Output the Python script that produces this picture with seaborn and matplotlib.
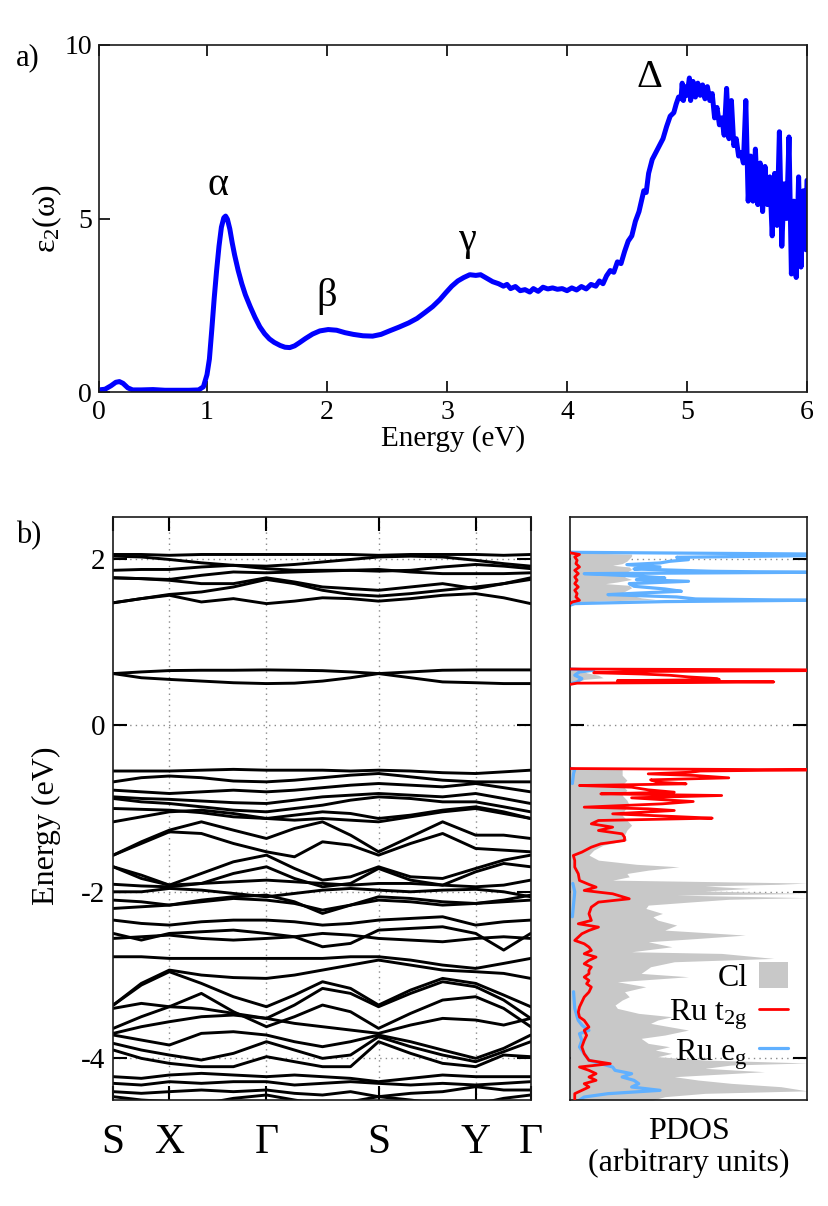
import numpy as np
import pandas as pd
import matplotlib
matplotlib.use("Agg")
import matplotlib.pyplot as plt
import seaborn as sns
from matplotlib.patches import Patch
from matplotlib.lines import Line2D

# ---------------- data: panel a) ----------------
eps_energy = [0.10, 0.15, 0.20, 0.24, 0.27, 0.30, 0.34, 0.38, 0.45, 0.55, 0.65, 0.75, 0.85, 0.93,
              0.97, 1.00, 1.02, 1.04, 1.06, 1.08, 1.10, 1.12, 1.14, 1.155, 1.17, 1.19, 1.21, 1.23,
              1.26, 1.29, 1.32, 1.36, 1.40, 1.44, 1.48, 1.52, 1.56, 1.61, 1.65, 1.69, 1.73, 1.77,
              1.82, 1.88, 1.94, 2.01, 2.08, 2.15, 2.22, 2.30, 2.38, 2.45, 2.52, 2.60, 2.68, 2.75,
              2.82, 2.88, 2.94, 2.99, 3.04, 3.09, 3.14, 3.19, 3.24, 3.28, 3.33, 3.38, 3.43, 3.47,
              3.50, 3.53, 3.57, 3.61, 3.65, 3.69, 3.72, 3.76, 3.80, 3.84, 3.88, 3.92, 3.96, 4.00,
              4.04, 4.08, 4.12, 4.16, 4.20, 4.24, 4.27, 4.30, 4.33, 4.36, 4.39, 4.42, 4.45, 4.48,
              4.51, 4.54, 4.57, 4.60, 4.62, 4.64, 4.66, 4.68, 4.71, 4.74, 4.77, 4.80, 4.83, 4.86,
              4.89, 4.91, 4.93, 4.95, 4.96, 4.97, 4.99, 5.00, 5.02, 5.03, 5.05, 5.07, 5.09, 5.11,
              5.13, 5.15, 5.17, 5.19, 5.21, 5.23, 5.25, 5.27, 5.29, 5.31, 5.33, 5.35, 5.37, 5.39,
              5.41, 5.43, 5.45, 5.47, 5.49, 5.51, 5.53, 5.55, 5.57, 5.59, 5.61, 5.63, 5.65, 5.67,
              5.69, 5.71, 5.73, 5.75, 5.77, 5.79, 5.81, 5.83, 5.85, 5.87, 5.89, 5.91, 5.93, 5.95,
              5.97, 5.99, 6.00]
eps2 = [0.06, 0.08, 0.18, 0.28, 0.30, 0.25, 0.12, 0.06, 0.06, 0.07, 0.05, 0.05, 0.05, 0.06,
        0.15, 0.50, 0.95, 1.80, 2.70, 3.50, 4.20, 4.75, 5.02, 5.07, 4.98, 4.70, 4.30, 3.95,
        3.50, 3.12, 2.80, 2.46, 2.15, 1.88, 1.68, 1.53, 1.43, 1.34, 1.29, 1.28, 1.33, 1.42,
        1.54, 1.67, 1.76, 1.80, 1.78, 1.71, 1.66, 1.62, 1.61, 1.66, 1.76, 1.87, 1.99, 2.12,
        2.30, 2.46, 2.66, 2.86, 3.05, 3.20, 3.30, 3.38, 3.36, 3.38, 3.28, 3.18, 3.12, 3.05,
        3.10, 2.98, 3.04, 2.92, 2.95, 2.88, 2.98, 2.90, 3.02, 2.97, 3.00, 2.96, 2.98, 2.92,
        3.00, 2.94, 3.04, 2.97, 3.10, 3.05, 3.20, 3.12, 3.35, 3.50, 3.45, 3.75, 3.70, 4.05,
        4.35, 4.50, 4.92, 5.20, 5.50, 5.80, 5.75, 6.30, 6.70, 6.90, 7.10, 7.30, 7.65, 7.95,
        8.05, 8.30, 8.50, 8.45, 8.90, 8.40, 8.80, 8.55, 9.05, 8.40, 8.95, 8.50, 8.90, 8.55,
        8.85, 8.45, 8.80, 8.40, 8.60, 7.90, 8.20, 7.70, 7.90, 7.40, 8.75, 7.30, 8.40, 7.10,
        7.30, 6.80, 6.90, 6.60, 8.40, 5.50, 6.80, 5.50, 7.00, 5.40, 6.60, 5.20, 6.50, 5.40,
        6.20, 4.50, 6.30, 4.80, 7.50, 4.20, 6.00, 5.00, 7.35, 3.40, 5.50, 3.30, 6.20, 3.60,
        5.80, 4.10, 6.10]
peak_labels = ["α", "β", "γ", "Δ"]
peak_x = [1.09, 2.00, 3.17, 4.69]
peak_y = [5.96, 2.74, 4.38, 9.05]
a_xticks = [0.1, 1, 2, 3, 4, 5, 6]
a_xticklabels = ["0", "1", "2", "3", "4", "5", "6"]
a_yticks = [0, 5, 10]

# ---------------- data: panel b) band structure ----------------
k_path = [0, 28, 56, 88, 120, 153, 181, 209, 237, 265, 297, 329, 362, 390, 417]
k_ticks = [0, 56, 153, 265, 362, 417]
k_labels = ["S", "X", "Γ", "S", "Y", "Γ"]
band_yticks = [2, 0, -2, -4]

bands_conduction = [
    [2.05, 2.05, 2.04, 2.05, 2.05, 2.05, 2.05, 2.05, 2.05, 2.04, 2.05, 2.05, 2.05, 2.04, 2.05],
    [2.03, 2.02, 1.99, 1.95, 1.92, 1.91, 1.93, 1.96, 1.99, 2.02, 2.03, 2.02, 1.98, 1.94, 1.91],
    [1.86, 1.87, 1.87, 1.90, 1.92, 1.88, 1.86, 1.86, 1.86, 1.85, 1.86, 1.90, 1.93, 1.91, 1.88],
    [1.77, 1.76, 1.75, 1.80, 1.84, 1.83, 1.84, 1.85, 1.86, 1.87, 1.84, 1.82, 1.82, 1.82, 1.83],
    [1.77, 1.76, 1.74, 1.70, 1.70, 1.77, 1.72, 1.66, 1.64, 1.62, 1.66, 1.70, 1.64, 1.70, 1.77],
    [1.47, 1.52, 1.57, 1.60, 1.66, 1.75, 1.70, 1.62, 1.57, 1.55, 1.58, 1.62, 1.66, 1.70, 1.75],
    [1.47, 1.52, 1.56, 1.48, 1.52, 1.46, 1.49, 1.53, 1.52, 1.49, 1.52, 1.56, 1.58, 1.53, 1.46],
]
bands_flat = [
    [0.62, 0.64, 0.656, 0.66, 0.66, 0.664, 0.66, 0.655, 0.64, 0.62, 0.64, 0.66, 0.664, 0.664, 0.664],
    [0.62, 0.57, 0.55, 0.53, 0.51, 0.50, 0.505, 0.53, 0.57, 0.62, 0.57, 0.52, 0.51, 0.50, 0.50],
]
bands_valence_upper = [
    [-0.55, -0.55, -0.55, -0.54, -0.53, -0.54, -0.54, -0.54, -0.55, -0.54, -0.55, -0.57, -0.58, -0.56, -0.54],
    [-0.68, -0.63, -0.61, -0.63, -0.67, -0.68, -0.66, -0.63, -0.60, -0.58, -0.62, -0.66, -0.68, -0.68, -0.68],
    [-0.78, -0.80, -0.82, -0.80, -0.78, -0.80, -0.78, -0.75, -0.72, -0.70, -0.72, -0.74, -0.70, -0.75, -0.80],
    [-0.86, -0.88, -0.89, -0.91, -0.93, -0.94, -0.90, -0.86, -0.84, -0.82, -0.84, -0.86, -0.82, -0.88, -0.94],
    [-0.88, -0.92, -0.94, -0.98, -1.02, -1.04, -1.00, -0.96, -0.90, -0.86, -0.88, -0.92, -0.92, -0.98, -1.04],
    [-1.00, -1.01, -1.02, -1.05, -1.10, -1.12, -1.08, -1.04, -1.06, -1.12, -1.08, -1.02, -0.98, -1.04, -1.12],
    [-1.16, -1.10, -1.04, -1.02, -1.06, -1.12, -1.14, -1.12, -1.14, -1.16, -1.10, -1.04, -1.00, -1.06, -1.12],
    [-1.56, -1.40, -1.26, -1.16, -1.26, -1.36, -1.24, -1.16, -1.32, -1.52, -1.34, -1.16, -1.32, -1.32, -1.36],
    [-1.56, -1.42, -1.28, -1.30, -1.42, -1.52, -1.58, -1.40, -1.44, -1.56, -1.42, -1.30, -1.48, -1.50, -1.52],
    [-1.70, -1.80, -1.92, -1.78, -1.64, -1.56, -1.72, -1.86, -1.82, -1.70, -1.82, -1.84, -1.72, -1.62, -1.56],
    [-1.70, -1.84, -1.92, -1.90, -1.78, -1.70, -1.84, -1.94, -1.90, -1.72, -1.86, -1.92, -1.76, -1.66, -1.70],
    [-1.91, -1.93, -1.94, -1.90, -1.88, -1.86, -1.88, -1.90, -1.92, -1.90, -1.90, -1.92, -1.94, -1.92, -1.86],
    [-2.00, -2.00, -1.96, -1.98, -2.02, -2.06, -2.02, -1.98, -1.96, -1.98, -2.00, -1.98, -1.97, -2.00, -2.06],
]
bands_valence_lower = [
    [-2.10, -2.12, -2.16, -2.12, -2.08, -2.10, -2.14, -2.22, -2.16, -2.10, -2.12, -2.16, -2.14, -2.12, -2.10],
    [-2.20, -2.18, -2.16, -2.10, -2.06, -2.04, -2.12, -2.26, -2.16, -2.06, -2.08, -2.12, -2.14, -2.10, -2.04],
    [-2.34, -2.38, -2.40, -2.36, -2.34, -2.34, -2.36, -2.40, -2.38, -2.34, -2.32, -2.30, -2.40, -2.36, -2.34],
    [-2.50, -2.58, -2.50, -2.48, -2.46, -2.50, -2.54, -2.66, -2.62, -2.46, -2.44, -2.42, -2.50, -2.70, -2.50],
    [-2.56, -2.54, -2.52, -2.56, -2.58, -2.56, -2.54, -2.50, -2.52, -2.56, -2.58, -2.60, -2.56, -2.54, -2.56],
    [-2.78, -2.78, -2.80, -2.80, -2.80, -2.80, -2.80, -2.80, -2.78, -2.78, -2.82, -2.88, -2.92, -2.86, -2.80],
    [-3.36, -3.10, -2.94, -3.00, -3.03, -3.04, -3.00, -2.94, -2.88, -2.82, -2.88, -2.94, -2.96, -2.98, -3.04],
    [-3.36, -3.12, -2.96, -3.10, -3.26, -3.38, -3.24, -3.08, -3.16, -3.36, -3.18, -3.04, -3.10, -3.24, -3.38],
    [-3.40, -3.34, -3.38, -3.40, -3.46, -3.52, -3.36, -3.16, -3.22, -3.38, -3.22, -3.08, -3.14, -3.30, -3.52],
    [-3.64, -3.50, -3.38, -3.22, -3.44, -3.62, -3.50, -3.36, -3.44, -3.64, -3.46, -3.30, -3.26, -3.40, -3.62],
    [-3.70, -3.62, -3.56, -3.50, -3.48, -3.52, -3.58, -3.62, -3.66, -3.70, -3.60, -3.52, -3.54, -3.60, -3.52],
    [-3.72, -3.78, -3.84, -3.70, -3.68, -3.72, -3.80, -3.86, -3.80, -3.72, -3.80, -3.90, -4.00, -3.88, -3.72],
    [-3.82, -3.90, -3.96, -4.02, -3.94, -3.80, -3.90, -4.00, -3.96, -3.74, -3.86, -3.96, -4.04, -3.92, -3.80],
    [-3.90, -4.00, -4.06, -4.10, -4.10, -3.98, -4.04, -4.10, -4.10, -3.80, -3.94, -4.06, -4.10, -3.96, -3.98],
    [-4.22, -4.24, -4.20, -4.18, -4.20, -4.22, -4.20, -4.22, -4.24, -4.28, -4.24, -4.20, -4.22, -4.22, -4.22],
    [-4.30, -4.32, -4.28, -4.30, -4.28, -4.28, -4.32, -4.30, -4.28, -4.30, -4.32, -4.30, -4.32, -4.30, -4.28],
    [-4.40, -4.42, -4.40, -4.38, -4.40, -4.38, -4.42, -4.44, -4.40, -4.46, -4.42, -4.40, -4.34, -4.38, -4.38],
    [-4.46, -4.50, -4.52, -4.55, -4.48, -4.44, -4.50, -4.55, -4.52, -4.46, -4.50, -4.55, -4.55, -4.48, -4.44],
]

# ---------------- data: PDOS ----------------
cl_energy = [2.07, 2.055, 2.03, 2.00, 1.97, 1.94, 1.92, 1.90, 1.87, 1.84, 1.81, 1.78, 1.75, 1.72, 1.70,
             1.68, 1.65, 1.62, 1.59, 1.56, 1.53, 1.51, 1.49, 1.47,
             0.675, 0.66, 0.63, 0.60, 0.57, 0.55, 0.52, 0.495,
             -0.515, -0.53, -0.60, -0.66, -0.72, -0.78, -0.84, -0.90, -0.96, -1.02, -1.08, -1.14,
             -1.20, -1.26, -1.32, -1.38, -1.44, -1.50, -1.56, -1.62, -1.67, -1.70, -1.74, -1.78,
             -1.82, -1.86, -1.895, -1.91, -1.93, -1.96, -1.99, -2.02, -2.04, -2.07, -2.09, -2.12,
             -2.16, -2.20, -2.26, -2.30, -2.34, -2.40, -2.46, -2.52, -2.56, -2.60, -2.66, -2.72,
             -2.74, -2.80, -2.84, -2.90, -2.98, -3.02, -3.08, -3.14, -3.20, -3.26, -3.30, -3.36,
             -3.40, -3.46, -3.50, -3.54, -3.58, -3.66, -3.72, -3.76, -3.82, -3.86, -3.90, -3.94,
             -3.98, -4.02, -4.055, -4.08, -4.12, -4.16, -4.22, -4.26, -4.30, -4.34, -4.39, -4.42,
             -4.46, -4.50]
cl_pdos = [0.0, 0.26, 0.26, 0.25, 0.24, 0.22, 0.18, 0.25, 0.26, 0.24, 0.26, 0.23, 0.26, 0.20, 0.15,
           0.25, 0.26, 0.24, 0.22, 0.26, 0.30, 0.36, 0.12, 0.0,
           0.0, 0.05, 0.07, 0.12, 0.14, 0.06, 0.03, 0.0,
           0.0, 0.22, 0.22, 0.24, 0.22, 0.24, 0.22, 0.24, 0.25, 0.23, 0.22, 0.24,
           0.26, 0.24, 0.23, 0.24, 0.14, 0.10, 0.08, 0.12, 0.28, 0.46, 0.33, 0.24,
           0.25, 0.18, 1.0, 0.88, 0.57, 0.76, 0.57, 1.0, 0.45, 1.0, 0.67, 0.52,
           0.33, 0.32, 0.39, 0.35, 0.37, 0.45, 0.40, 0.74, 0.54, 0.33, 0.43, 0.26,
           0.64, 0.86, 0.44, 0.34, 0.30, 0.50, 0.20, 0.32, 0.23, 0.25, 0.22, 0.19,
           0.20, 0.29, 0.43, 0.37, 0.34, 0.50, 0.40, 0.30, 0.33, 0.42, 0.36, 0.43,
           0.37, 0.57, 1.0, 0.68, 0.57, 0.82, 0.44, 0.54, 0.68, 0.89, 1.0, 0.57,
           0.40, 0.35]

t2g_energy = [2.07, 2.05, 2.02, 1.98, 1.94, 1.90, 1.86, 1.82, 1.78, 1.74, 1.70, 1.66, 1.62, 1.58,
              1.54, 1.50, 1.48, 1.46,
              0.675, 0.665, 0.655, 0.645, 0.63, 0.615, 0.60, 0.58, 0.56, 0.548, 0.535, 0.52, 0.512,
              0.505, 0.49,
              -0.52, -0.536, -0.55, -0.564, -0.584, -0.604, -0.632, -0.656, -0.684, -0.704, -0.724,
              -0.744, -0.776, -0.804, -0.824, -0.844, -0.872, -0.896, -0.916, -0.944, -0.984,
              -1.004, -1.024, -1.064, -1.096, -1.116, -1.144, -1.184, -1.224, -1.264, -1.304,
              -1.344, -1.384, -1.424, -1.464, -1.524, -1.564, -1.624, -1.704, -1.784, -1.864,
              -1.912, -1.944, -1.984, -2.024, -2.084, -2.124, -2.184, -2.264, -2.344, -2.384,
              -2.424, -2.464, -2.504, -2.544, -2.584, -2.624, -2.664, -2.704, -2.744, -2.784,
              -2.824, -2.864, -2.904, -2.944, -2.984, -3.024, -3.064, -3.104, -3.144, -3.204,
              -3.264, -3.324, -3.384, -3.444, -3.504, -3.544, -3.624, -3.664, -3.724, -3.784,
              -3.864, -3.944, -4.024, -4.064, -4.104, -4.144, -4.184, -4.224, -4.264, -4.304,
              -4.344, -4.384, -4.424, -4.50]
t2g_pdos = [0.0, 0.04, 0.02, 0.03, 0.025, 0.04, 0.02, 0.035, 0.02, 0.03, 0.02, 0.035, 0.02, 0.03,
            0.025, 0.04, 0.01, 0.0,
            0.0, 1.0, 1.0, 0.30, 0.10, 0.30, 0.42, 0.50, 0.62, 0.63, 0.20, 0.86, 0.50,
            0.03, 0.0,
            0.0, 1.0, 0.55, 0.51, 0.33, 0.53, 0.67, 0.34, 0.37, 0.49, 0.04,
            0.26, 0.33, 0.44, 0.13, 0.64, 0.26, 0.40, 0.52, 0.39, 0.06,
            0.33, 0.44, 0.18, 0.44, 0.60, 0.12, 0.09, 0.18, 0.12, 0.22,
            0.23, 0.23, 0.13, 0.09, 0.05, 0.014, 0.02, 0.02, 0.035, 0.04,
            0.08, 0.11, 0.06, 0.18, 0.25, 0.12, 0.09, 0.08, 0.09, 0.035,
            0.12, 0.08, 0.05, 0.035, 0.02, 0.06, 0.08, 0.09, 0.06, 0.11,
            0.08, 0.06, 0.09, 0.08, 0.08, 0.06, 0.08, 0.07, 0.09, 0.08,
            0.06, 0.05, 0.04, 0.035, 0.04, 0.06, 0.08, 0.06, 0.07, 0.06,
            0.05, 0.06, 0.08, 0.17, 0.04, 0.08, 0.11, 0.08, 0.11, 0.06,
            0.08, 0.05, 0.02, 0.02]

eg_energy = [2.076, 2.056, 2.036, 2.016, 1.988, 1.968, 1.948, 1.928, 1.90, 1.876, 1.848, 1.836,
             1.82, 1.788, 1.768, 1.748, 1.728, 1.70, 1.668, 1.636, 1.608, 1.588, 1.568, 1.54,
             1.516, 1.50, 1.484, 1.46, 1.44,
             0.675, 0.66, 0.64, 0.60, 0.56, 0.52, 0.495,
             -0.515, -0.53, -0.58, -0.70, -1.00, -1.50, -1.90, -2.00, -2.30, -2.80, -3.20, -3.40,
             -3.50, -3.544, -3.60, -3.624, -3.664, -3.704, -3.784, -3.864, -3.944, -4.024, -4.064,
             -4.104, -4.144, -4.184, -4.224, -4.264, -4.304, -4.344, -4.384, -4.424, -4.464, -4.50]
eg_pdos = [0.0, 1.0, 1.0, 0.45, 0.50, 0.42, 0.38, 0.24, 0.38, 0.27, 0.60, 1.0,
           0.06, 0.30, 0.40, 0.28, 0.50, 0.25, 0.27, 0.40, 0.47, 0.30, 0.16, 0.45,
           0.53, 1.0, 0.40, 0.02, 0.0,
           0.0, 0.10, 0.04, 0.02, 0.05, 0.03, 0.0,
           0.0, 0.02, 0.015, 0.01, 0.01, 0.008, 0.012, 0.02, 0.01, 0.012, 0.015, 0.02,
           0.03, 0.035, 0.05, 0.06, 0.08, 0.04, 0.05, 0.04, 0.06, 0.08, 0.13,
           0.18, 0.19, 0.26, 0.22, 0.27, 0.29, 0.26, 0.38, 0.16, 0.06, 0.04]
legend_labels = ["Cl", "Ru t$_{\\mathrm{2g}}$", "Ru e$_{\\mathrm{g}}$"]

# ---------------- style ----------------
sns.set_theme(style="white")
plt.rcParams["font.family"] = ["Liberation Serif", "DejaVu Serif"]
plt.rcParams["mathtext.fontset"] = "custom"
plt.rcParams["mathtext.rm"] = "Liberation Serif"
plt.rcParams["mathtext.it"] = "Liberation Serif:italic"
plt.rcParams["text.color"] = "black"
plt.rcParams["axes.labelcolor"] = "black"
plt.rcParams["xtick.color"] = "black"
plt.rcParams["ytick.color"] = "black"
plt.rcParams["axes.edgecolor"] = "#1a1a1a"
plt.rcParams["axes.linewidth"] = 1.2

BLUE = "#0000ff"
RED = "#ff0000"
LBLUE = "#60b0ff"
GRAY = "#c8c8c8"

fig = plt.figure(figsize=(8.29, 12.06), dpi=100)

# ---------------- panel a ----------------
ax1 = fig.add_axes([99 / 829, 1 - 392 / 1206, 708 / 829, 347 / 1206])
sns.lineplot(x=eps_energy, y=eps2, ax=ax1, color=BLUE, lw=3.6, sort=False, estimator=None)
ax1.set_xlim(0.1, 6)
ax1.set_ylim(0, 10)
ax1.set_xticks(a_xticks)
ax1.set_xticklabels(a_xticklabels)
ax1.set_yticks(a_yticks)
ax1.tick_params(axis="x", direction="in", bottom=True, top=True, length=8, width=1.2,
                labelsize=20, pad=6)
ax1.tick_params(axis="y", direction="in", left=True, right=False, length=8, width=1.2,
                labelsize=20, pad=5)
ax1.set_xlabel("Energy (eV)", fontsize=21)
ax1.xaxis.set_label_coords(0.5, -0.095)
ax1.set_ylabel("ε$_{\\mathrm{2}}$(ω)", fontsize=23)
ax1.yaxis.set_label_coords(-0.05, 0.5)
for lab, px, py in zip(peak_labels, peak_x, peak_y):
    ax1.text(px, py, lab, ha="center", va="center", fontsize=29)
fig.text(28 / 829, 1 - 58 / 1206, "a)", fontsize=22, ha="center", va="center")

# ---------------- panel b: bands ----------------
ax2 = fig.add_axes([113.3 / 829, 1 - 1100 / 1206, 417.4 / 829, 583 / 1206])
rows = []
all_bands = bands_conduction + bands_flat + bands_valence_upper + bands_valence_lower
for bi, band in enumerate(all_bands):
    for kk, ee in zip(k_path, band):
        rows.append((bi, kk, ee))
band_df = pd.DataFrame(rows, columns=["band", "k", "E"])
ax2.set_axisbelow(True)
for xv in k_ticks[1:-1]:
    ax2.axvline(xv, color="#8a8a8a", ls=(0, (1, 3)), lw=1.0, zorder=0)
for yv in band_yticks:
    ax2.axhline(yv, color="#8a8a8a", ls=(0, (1, 3)), lw=1.0, zorder=0)
sns.lineplot(data=band_df, x="k", y="E", units="band", estimator=None, sort=False,
             color="black", lw=2.1, ax=ax2, legend=False)
ax2.set_xlim(0, 417)
ax2.set_ylim(-4.5, 2.5)
ax2.set_xticks(k_ticks)
ax2.set_xticklabels(k_labels)
ax2.set_yticks(band_yticks)
ax2.set_yticklabels([str(v) for v in band_yticks])
ax2.tick_params(axis="x", direction="in", bottom=True, top=True, length=10, width=1.5,
                labelsize=30, pad=17)
ax2.tick_params(axis="y", direction="in", left=True, right=True, length=10, width=1.5,
                labelsize=21, pad=6)
ax2.set_xlabel("")
ax2.set_ylabel("Energy (eV)", fontsize=23)
ax2.yaxis.set_label_coords(-0.125, 0.47)
fig.text(29 / 829, 1 - 536 / 1206, "b)", fontsize=22, ha="center", va="center")

# ---------------- panel b: PDOS ----------------
ax3 = fig.add_axes([570 / 829, 1 - 1100 / 1206, 237 / 829, 583 / 1206])
for yv in band_yticks:
    ax3.axhline(yv, color="#8a8a8a", ls=(0, (1, 3)), lw=1.0, zorder=0)
ax3.fill_betweenx(cl_energy, 0, cl_pdos, color=GRAY, lw=0, zorder=1)


def seg_frame(energy, values):
    e = np.asarray(energy)
    seg = np.concatenate([[0], np.cumsum(np.abs(np.diff(e)) > 0.3)])
    return pd.DataFrame({"E": e, "v": values, "seg": seg})


sns.lineplot(data=seg_frame(eg_energy, eg_pdos), x="v", y="E", units="seg", orient="y",
             estimator=None, sort=False, color=LBLUE, lw=2.3, ax=ax3, legend=False, zorder=2)
sns.lineplot(data=seg_frame(t2g_energy, t2g_pdos), x="v", y="E", units="seg", orient="y",
             estimator=None, sort=False, color=RED, lw=2.0, ax=ax3, legend=False, zorder=3)
ax3.set_xlim(0, 1.0)
ax3.set_ylim(-4.5, 2.5)
ax3.set_xticks([])
ax3.set_yticks(band_yticks)
ax3.tick_params(axis="y", direction="in", left=True, right=True, labelleft=False,
                length=10, width=1.5)
ax3.set_ylabel("")
ax3.set_xlabel("PDOS\n(arbitrary units)", fontsize=23, linespacing=1.1)
ax3.xaxis.set_label_coords(0.5, -0.03)
handles = [Patch(facecolor=GRAY, edgecolor="none"),
           Line2D([], [], color=RED, lw=2.0),
           Line2D([], [], color=LBLUE, lw=2.3)]
ax3.legend(handles, legend_labels, loc="lower right", bbox_to_anchor=(1.0, 0.015),
           frameon=False, markerfirst=False, fontsize=23, handlelength=0.9,
           handleheight=0.9, handletextpad=0.35, labelspacing=0.12, borderaxespad=0.2)

fig.savefig("out.png", dpi=100)
